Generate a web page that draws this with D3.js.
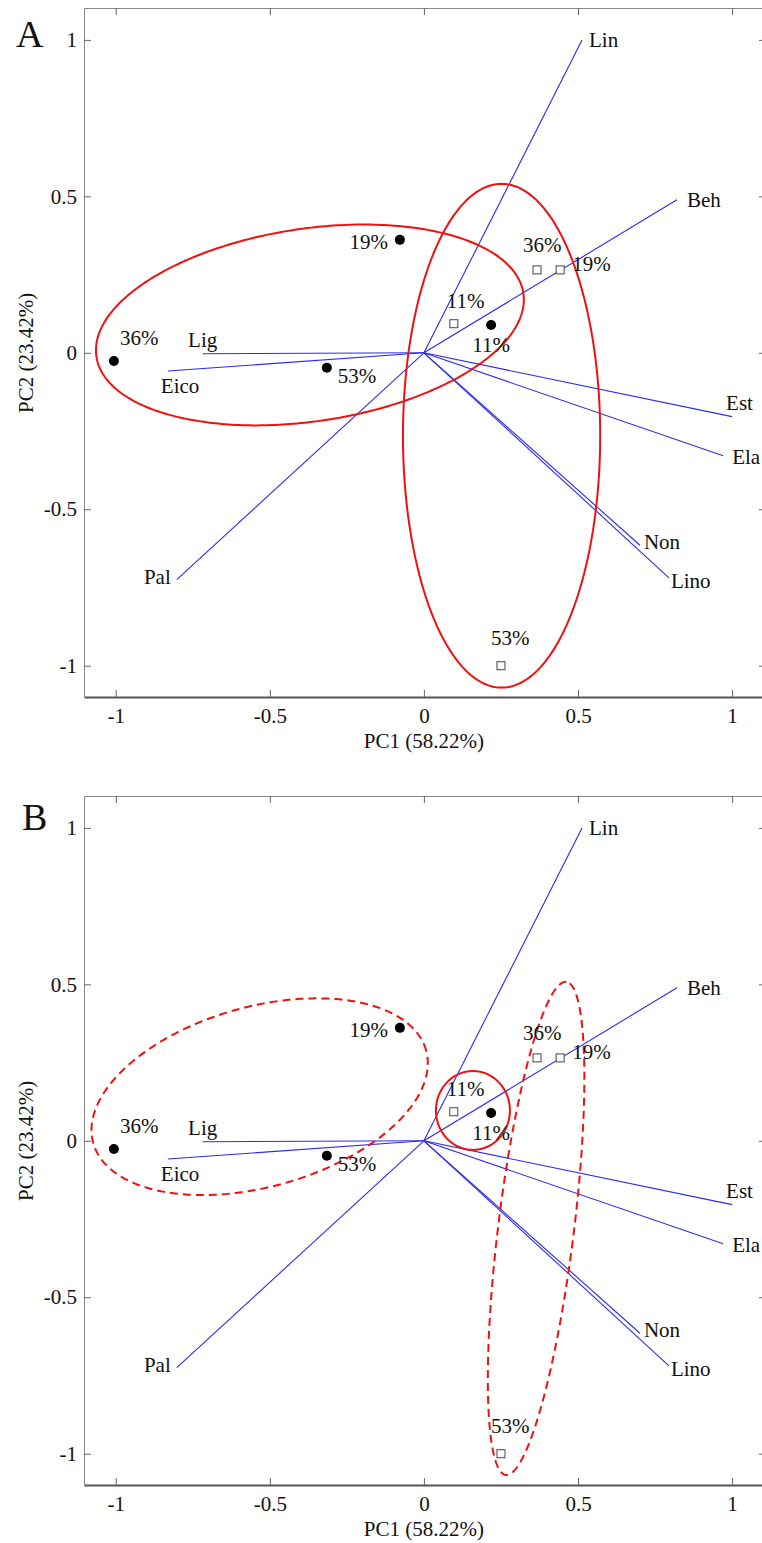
<!DOCTYPE html>
<html><head><meta charset="utf-8">
<script src="https://cdn.jsdelivr.net/npm/d3@7"></script>
<style>
body{margin:0;background:#fff}
svg{display:block}
text{font-family:"Liberation Serif","Times New Roman",serif;fill:#111}
</style>
</head><body><svg id="chart" width="762" height="1543"></svg>
<script>
// ---------- DATA ----------
const xTicks = [-1, -0.5, 0, 0.5, 1];
const yTicks = [-1, -0.5, 0, 0.5, 1];
const xTitle = "PC1 (58.22%)";
const yTitle = "PC2 (23.42%)";
const panelLetters = ["A", "B"];

// loadings (variables) : end points of vectors from origin
const loadingNames = ["Lin", "Beh", "Est", "Ela", "Non", "Lino", "Pal", "Lig", "Eico"];
const loadingPC1   = [0.513, 0.821, 1.000, 0.971, 0.701, 0.795, -0.802, -0.718, -0.831];
const loadingPC2   = [1.000, 0.489, -0.204, -0.329, -0.615, -0.719, -0.725, -0.003, -0.058];

// scores : filled dots
const dotLabels = ["36%", "19%", "53%", "11%"];
const dotPC1    = [-1.006, -0.078, -0.315, 0.218];
const dotPC2    = [-0.026, 0.361, -0.048, 0.089];

// scores : open squares
const squareLabels = ["11%", "36%", "19%", "53%"];
const squarePC1    = [0.097, 0.367, 0.442, 0.250];
const squarePC2    = [0.093, 0.265, 0.265, -1.000];

// grouping ellipses, panel A
const ellipseACenters = [[-0.370, 0.089], [0.252, -0.265]];
const ellipseARadii   = [[0.700, 0.308], [0.805, 0.320]];
const ellipseAAngles  = [8.25, 90];
const ellipseADashed  = [false, false];

// grouping ellipses, panel B
const ellipseBCenters = [[-0.533, 0.141], [0.159, 0.097], [0.364, -0.280]];
const ellipseBRadii   = [[0.560, 0.288], [0.120, 0.126], [0.794, 0.123]];
const ellipseBAngles  = [15.2, 0, 82.9];
const ellipseBDashed  = [true, false, true];

// ---------- LABEL PLACEMENT (pixels) ----------
const loadingLabelPos = {
  Lin:[7,7,"start"], Beh:[10,7,"start"], Est:[-6,-7,"start"], Ela:[9,8,"start"],
  Non:[4,4,"start"], Lino:[2,10,"start"], Pal:[-6,4,"end"], Lig:[0,-6.5,"middle"], Eico:[-7,22,"start"]
};
const dotLabelPos = [[6,-16,"start"], [-12,9,"end"], [11,15,"start"], [0,27,"middle"]];
const squareLabelPos = [[-7,-16,"start"], [-14,-18,"start"], [12,1,"start"], [-10,-21,"start"]];

// ---------- LAYOUT ----------
const W = 762;
const left = 84, right = 766;
const panels = [
  {top: 8,   bottom: 697,  letter: panelLetters[0], lx: 16, ly: 47,
   centers: ellipseACenters, radii: ellipseARadii, angles: ellipseAAngles, dashed: ellipseADashed},
  {top: 796, bottom: 1485, letter: panelLetters[1], lx: 22, ly: 830,
   centers: ellipseBCenters, radii: ellipseBRadii, angles: ellipseBAngles, dashed: ellipseBDashed}
];

const svg = d3.select("#chart");
svg.append("rect").attr("width", W).attr("height", 1543).attr("fill", "#fff");

const x = d3.scaleLinear().domain([-1.103, 1.110]).range([left, right]);
const FS = 21;

panels.forEach(p => {
  const y = d3.scaleLinear().domain([-1.100, 1.102]).range([p.bottom, p.top]);
  const g = svg.append("g");

  // axes
  const gb = g.append("g").attr("transform", `translate(0,${p.bottom})`)
    .call(d3.axisBottom(x).tickValues(xTicks).tickSize(-7).tickSizeOuter(0).tickPadding(11).tickFormat(d => String(d)));
  const gt = g.append("g").attr("transform", `translate(0,${p.top})`)
    .call(d3.axisTop(x).tickValues(xTicks).tickSize(-7).tickSizeOuter(0).tickFormat(""));
  const gl = g.append("g").attr("transform", `translate(${left},0)`)
    .call(d3.axisLeft(y).tickValues(yTicks).tickSize(-7).tickSizeOuter(0).tickPadding(7).tickFormat(d => String(d)));
  const gr = g.append("g").attr("transform", `translate(${right},0)`)
    .call(d3.axisRight(y).tickValues(yTicks).tickSize(-7).tickSizeOuter(0).tickFormat(""));
  [gb, gt, gl, gr].forEach(a => {
    a.attr("font-family", null);
    a.selectAll("text").attr("font-size", FS).attr("fill", "#111");
    a.selectAll(".tick line").attr("stroke", "#666");
    a.select(".domain").attr("stroke", "#888");
  });
  gb.select(".domain").attr("stroke", "#555").attr("stroke-width", 2.2);

  // titles
  g.append("text").attr("x", x(0)).attr("y", p.bottom + 51).attr("text-anchor", "middle")
    .attr("font-size", FS).text(xTitle);
  g.append("text").attr("transform", `translate(33,${y(0)}) rotate(-90)`).attr("text-anchor", "middle")
    .attr("font-size", FS).text(yTitle);
  g.append("text").attr("x", p.lx).attr("y", p.ly).attr("font-size", 38).text(p.letter);

  // loading vectors
  loadingNames.forEach((n, i) => {
    g.append("line").attr("x1", x(0)).attr("y1", y(0))
      .attr("x2", x(loadingPC1[i])).attr("y2", y(loadingPC2[i]))
      .attr("stroke", "#2b2bf0").attr("stroke-width", 1.1);
  });
  loadingNames.forEach((n, i) => {
    const o = loadingLabelPos[n];
    g.append("text").attr("x", x(loadingPC1[i]) + o[0]).attr("y", y(loadingPC2[i]) + o[1])
      .attr("text-anchor", o[2]).attr("font-size", FS).text(n);
  });

  // ellipses
  const line = d3.line().curve(d3.curveLinearClosed);
  p.centers.forEach((c, k) => {
    const th = p.angles[k] * Math.PI / 180;
    const [ra, rb] = p.radii[k];
    const pts = d3.range(0, 360, 1).map(t => {
      const a = t * Math.PI / 180;
      const ex = ra * Math.cos(a), ey = rb * Math.sin(a);
      return [x(c[0] + ex * Math.cos(th) - ey * Math.sin(th)),
              y(c[1] + ex * Math.sin(th) + ey * Math.cos(th))];
    });
    g.append("path").attr("d", line(pts)).attr("fill", "none")
      .attr("stroke", "#f01010").attr("stroke-width", 2)
      .attr("stroke-dasharray", p.dashed[k] ? "8,5" : null);
  });

  // dots
  dotLabels.forEach((l, i) => {
    g.append("circle").attr("cx", x(dotPC1[i])).attr("cy", y(dotPC2[i])).attr("r", 5).attr("fill", "#000");
    const o = dotLabelPos[i];
    g.append("text").attr("x", x(dotPC1[i]) + o[0]).attr("y", y(dotPC2[i]) + o[1])
      .attr("text-anchor", o[2]).attr("font-size", FS).text(l);
  });
  // squares
  squareLabels.forEach((l, i) => {
    g.append("rect").attr("x", x(squarePC1[i]) - 4).attr("y", y(squarePC2[i]) - 4)
      .attr("width", 8).attr("height", 8).attr("fill", "#fff").attr("stroke", "#444").attr("stroke-width", 1);
    const o = squareLabelPos[i];
    g.append("text").attr("x", x(squarePC1[i]) + o[0]).attr("y", y(squarePC2[i]) + o[1])
      .attr("text-anchor", o[2]).attr("font-size", FS).text(l);
  });
});
</script></body></html>
